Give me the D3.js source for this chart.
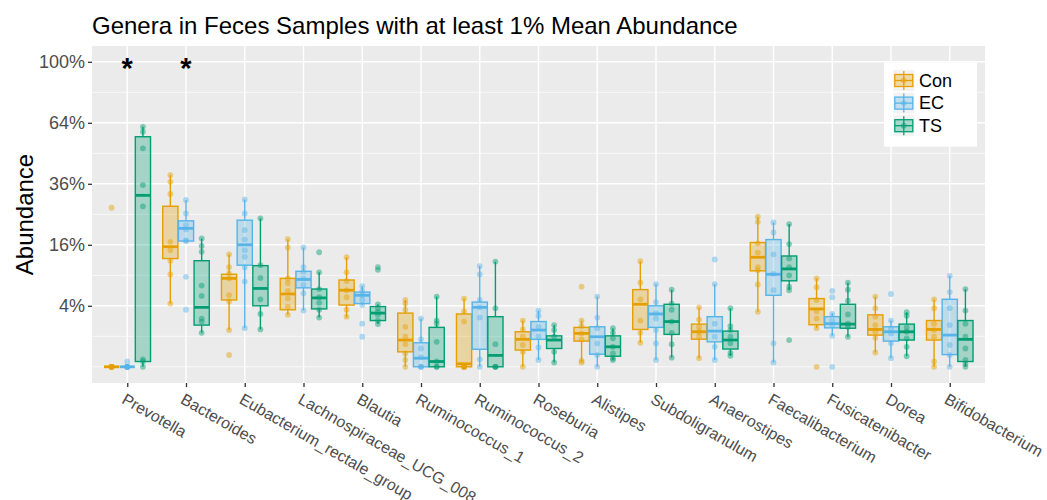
<!DOCTYPE html>
<html><head><meta charset="utf-8">
<script src="https://cdn.jsdelivr.net/npm/d3@7"></script>
<style>body{margin:0;background:#fff;} text{font-family:"Liberation Sans",Arial,Helvetica,sans-serif;}</style>
</head><body><svg id="c" width="1047" height="500"></svg>
<script>
const categories = ["Prevotella","Bacteroides","Eubacterium_rectale_group","Lachnospiraceae_UCG_008","Blautia","Ruminococcus_1","Ruminococcus_2","Roseburia","Alistipes","Subdoligranulum","Anaerostipes","Faecalibacterium","Fusicatenibacter","Dorea","Bifidobacterium"];
const groups = ["Con","EC","TS"];
const groupColors = ["#E69F00","#56B4E9","#009E73"];
const significant = ["Prevotella","Bacteroides"];
const yTicks = [0.04,0.16,0.36,0.64,1];
const yTickLabels = ["4%","16%","36%","64%","100%"];
const yMinor = [0,0.01,0.09,0.25,0.49,0.81];

// box stats in % : [lower whisker, Q1, median, Q3, upper whisker]
const conStats = [[0,0,0,0,0],[4.3,12.6,15.5,27.7,39.5],[1.45,4.8,8.4,9.2,13.6],[2.9,3.5,5.7,8.4,17.5],[2.6,4.1,6.3,8.1,12.9],[0,0.24,0.77,3.1,4.8],[0,0,0.01,3.0,5.0],[0,0.30,0.81,1.32,2.3],[0.03,0.71,1.2,1.67,2.3],[0.62,1.5,4.2,6.4,12.0],[0.08,0.82,1.32,1.96,3.8],[3.25,9.9,12.9,16.6,24.2],[1.6,1.9,3.6,5.0,8.4],[0.22,1.08,1.5,2.9,5.3],[0,0.77,1.5,2.3,4.9]];
const ecStats = [[0,0,0,0,0],[17.0,17.0,20.6,22.9,29.9],[1.6,11.1,16.0,23.1,30.1],[3.4,6.7,8.2,9.8,15.3],[4.1,4.3,5.5,6.0,7.0],[0,0,0.08,0.62,2.5],[0,0.33,3.8,4.5,10.9],[0.05,0.81,1.45,2.2,3.4],[0,0.17,0.97,1.72,5.3],[0.05,1.67,3.0,4.0,7.35],[0.05,0.67,1.37,2.7,7.35],[0.02,5.5,9.2,17.4,22.4],[1.03,1.63,2.0,2.7,3.1],[0.08,0.71,1.32,1.72,2.3],[0,0.16,1.08,4.9,8.9]];
const tsStats = [[0,0.03,31.6,56.9,61.9],[1.24,1.87,3.8,12.1,17.7],[1.5,4.0,6.6,11.0,23.7],[2.6,3.6,5.1,6.5,9.6],[1.96,2.3,3.1,3.9,4.2],[0,0,0.03,1.67,5.3],[0,0,0.14,2.7,11.9],[0.02,0.36,0.77,1.03,1.87],[0.05,0.12,0.43,1.03,1.6],[0.09,1.13,2.2,4.2,6.4],[0.13,0.34,0.77,1.37,3.7],[6.3,7.95,10.3,13.2,21.9],[0.97,1.6,1.96,4.2,7.6],[0.12,0.77,1.32,1.96,3.2],[0,0.03,0.81,2.3,6.5]];

// sample points in %
const conPoints = [[27.2,0,0,0,0,0,0,0,0],[39.5,36.8,32.1,16.8,14.6,12.1,9.2,4.3],[13.6,10.7,9.4,8.4,5.5,4.6,1.45,0.15],[17.5,15.3,8.4,7.5,6.2,5.0,3.9,2.9],[12.9,9.6,7.9,6.3,5.2,3.5,2.7],[4.8,4.3,3.5,1.72,0.97,0.55,0.19,0.05,0],[5.0,3.3,2.2,0,0,0,0,0],[2.3,1.5,0.97,0.51,0.24,0],[6.9,2.3,1.8,1.2,0.8,0.04,0.02],[12.0,7.6,4.9,2.3,1.24,0.62],[3.8,2.4,1.7,1.32,1.0,0.08],[24.2,22.6,16.4,14.0,10.7,10.0,7.3,3.25],[8.4,6.8,4.8,3.3,2.5,1.6,0],[5.3,3.7,2.7,1.87,1.32,0.9,0.22],[4.9,3.7,2.0,1.45,0.97,0.03,0]];
const ecPoints = [[0.03,0,0,0,0,0,0,0],[29.9,25.3,21.6,20.3,17.2,17.0,8.7,3.5],[30.1,25.3,20.1,17.4,14.6,13.0,10.6,7.8,1.6],[15.3,10.7,9.7,8.4,7.2,5.8,3.4],[7.0,6.2,5.5,4.8,4.1,2.0,0.97],[2.5,0.81,0.36,0.1,0,0,0],[10.9,9.2,4.8,3.8,2.6,0.06,0],[3.4,2.8,1.72,1.0,0.4,0.05],[5.3,2.6,1.6,0.59,0.15,0],[7.35,4.5,3.1,2.5,1.45,0.59,0.05],[12.4,7.35,2.0,0.97,0.43,0.05],[22.4,19.4,13.6,9.3,6.3,0.59,0.02],[6.2,5.2,3.0,2.3,1.9,1.03,0],[5.7,2.3,1.58,1.2,0.6,0.08],[8.9,6.0,3.7,1.87,0.51,0.15,0]];
const tsPoints = [[61.9,59.4,51.3,35.5,27.7,0.06,0.03,0],[17.7,15.7,14.2,7.1,5.4,2.5,2.2,1.24],[23.7,11.1,8.5,4.9,3.0,1.5],[14.1,9.6,6.5,5.2,4.4,3.5,2.6],[10.7,10.1,4.2,3.7,3.25,2.9,2.3,1.96],[5.3,2.3,2.0,0.67,0.03,0,0],[11.9,3.7,0.55,0,0,0],[1.87,1.45,0.97,0.24,0.02],[1.6,1.24,0.87,0.43,0.19,0.08,0.05],[6.4,4.3,3.5,2.2,1.24,0.55,0.09],[3.7,1.78,1.45,0.97,0.59,0.21,0.13],[21.9,16.2,12.6,10.7,9.0,6.9,6.3,0.77],[7.6,6.4,4.7,2.95,2.0,1.72,0.97],[3.2,2.8,1.67,1.32,0.87,0.43,0.12],[6.5,3.4,2.0,0.97,0.36,0.05,0.01,0]];

const statsByGroup = [conStats, ecStats, tsStats];
const pointsByGroup = [conPoints, ecPoints, tsPoints];

const svg = d3.select("#c");
const P = {l:92, r:985, t:46, b:383};
const x = d3.scalePoint().domain(categories).range([P.l, P.r]).padding(0.6);
const step = x.step();
const dx = d3.scaleBand().domain(groups).range([-0.4*step, 0.4*step]);
const y = d3.scaleSqrt().domain([0,1]).range([366.8, 61.8]);
const yp = v => y(v/100);

// panel
svg.append("rect").attr("x",P.l).attr("y",P.t).attr("width",P.r-P.l).attr("height",P.b-P.t).attr("fill","#EAEBEA");
const grid = svg.append("g");
yMinor.forEach(v => grid.append("line").attr("x1",P.l).attr("x2",P.r).attr("y1",y(v)).attr("y2",y(v)).attr("stroke","#fff").attr("stroke-width",0.7));
yTicks.forEach(v => grid.append("line").attr("x1",P.l).attr("x2",P.r).attr("y1",y(v)).attr("y2",y(v)).attr("stroke","#fff").attr("stroke-width",1.4));
categories.forEach(c => grid.append("line").attr("x1",x(c)).attr("x2",x(c)).attr("y1",P.t).attr("y2",P.b).attr("stroke","#fff").attr("stroke-width",1.4));

// boxes
const bw = dx.bandwidth()*0.97;
const boxes = svg.append("g");
groups.forEach((g,gi) => {
  const c = groupColors[gi];
  categories.forEach((cat,ci) => {
    const s = statsByGroup[gi][ci];
    const cx = x(cat) + dx(g) + dx.bandwidth()/2;
    const gg = boxes.append("g");
    gg.append("line").attr("x1",cx).attr("x2",cx).attr("y1",yp(s[0])).attr("y2",yp(s[1])).attr("stroke",c).attr("stroke-width",1.4);
    gg.append("line").attr("x1",cx).attr("x2",cx).attr("y1",yp(s[3])).attr("y2",yp(s[4])).attr("stroke",c).attr("stroke-width",1.4);
    gg.append("rect").attr("x",cx-bw/2).attr("width",bw).attr("y",yp(s[3])).attr("height",Math.max(0,yp(s[1])-yp(s[3])))
      .attr("fill",c).attr("fill-opacity",0.3).attr("stroke",c).attr("stroke-width",1.4);
    gg.append("line").attr("x1",cx-bw/2).attr("x2",cx+bw/2).attr("y1",yp(s[2])).attr("y2",yp(s[2])).attr("stroke",c).attr("stroke-width",2.8);
  });
});
// points
const pts = svg.append("g");
groups.forEach((g,gi) => {
  categories.forEach((cat,ci) => {
    const cx = x(cat) + dx(g) + dx.bandwidth()/2;
    pointsByGroup[gi][ci].forEach(v => {
      pts.append("circle").attr("cx",cx).attr("cy",yp(v)).attr("r",2.9).attr("fill",groupColors[gi]).attr("fill-opacity",0.45);
    });
  });
});

// significance stars
svg.append("g").selectAll("text").data(significant).join("text")
  .attr("x",d=>x(d)).attr("y",y(1)+16).attr("text-anchor","middle").attr("font-size",29).attr("font-weight","bold").attr("fill","#000").text("*");

// axes
const yAxis = svg.append("g").attr("transform",`translate(${P.l},0)`)
  .call(d3.axisLeft(y).tickValues(yTicks).tickFormat((d,i)=>yTickLabels[i]).tickSize(4).tickPadding(3));
yAxis.select(".domain").remove();
yAxis.selectAll("line").attr("stroke","#333").attr("stroke-width",1.3);
yAxis.selectAll("text").attr("font-size",18).attr("fill","#4D4D4D").attr("font-family","Liberation Sans, Arial, sans-serif");

const xAxis = svg.append("g").attr("transform",`translate(0,${P.b})`)
  .call(d3.axisBottom(x).tickSize(4));
xAxis.select(".domain").remove();
xAxis.selectAll("line").attr("stroke","#333").attr("stroke-width",1.3);
xAxis.selectAll("text").attr("font-size",16).attr("fill","#4D4D4D").attr("font-family","Liberation Sans, Arial, sans-serif")
  .attr("text-anchor","start").attr("y",0).attr("dy","0.75em")
  .attr("transform","translate(-1,9) rotate(30)");

// titles
svg.append("text").attr("x",92).attr("y",34).attr("font-size",24).attr("fill","#000").text("Genera in Feces Samples with at least 1% Mean Abundance");
svg.append("text").attr("transform",`translate(33,${(P.t+P.b)/2}) rotate(-90)`).attr("text-anchor","middle").attr("font-size",24).attr("fill","#000").text("Abundance");

// legend
const lg = svg.append("g").attr("transform","translate(884,62.7)");
lg.append("rect").attr("width",93).attr("height",84).attr("fill","#fff");
groups.forEach((g,i) => {
  const ky = 7.3 + i*22.6, kx = 9.3, ks = 21;
  const c = groupColors[i];
  const k = lg.append("g").attr("transform",`translate(${kx},${ky})`);
  k.append("rect").attr("width",ks).attr("height",ks).attr("fill","#F2F2F2");
  k.append("line").attr("x1",ks/2).attr("x2",ks/2).attr("y1",1).attr("y2",ks-1).attr("stroke",c).attr("stroke-width",1.3);
  k.append("rect").attr("x",1.5).attr("y",4.5).attr("width",ks-3).attr("height",ks-9).attr("fill",c).attr("fill-opacity",0.3).attr("stroke",c).attr("stroke-width",1.3);
  k.append("line").attr("x1",1.5).attr("x2",ks-1.5).attr("y1",ks/2).attr("y2",ks/2).attr("stroke",c).attr("stroke-width",1.3);
  k.append("circle").attr("cx",ks/2).attr("cy",ks/2).attr("r",2.9).attr("fill",c).attr("fill-opacity",0.45);
  lg.append("text").attr("x",35).attr("y",ky+ks/2).attr("dy","0.35em").attr("font-size",18).attr("fill","#000").text(g);
});
</script></body></html>
